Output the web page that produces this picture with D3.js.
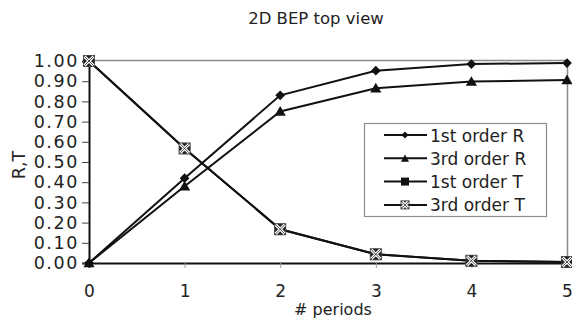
<!DOCTYPE html>
<html>
<head>
<meta charset="utf-8">
<script src="https://cdn.jsdelivr.net/npm/d3@7"></script>
<style>
  body { margin: 0; background: #fff; }
  text { font-family: "DejaVu Sans", Verdana, sans-serif; fill: #222; }
</style>
</head>
<body>
<svg id="chart" width="572" height="320"></svg>
<script>
// data
var periods = [0, 1, 2, 3, 4, 5];
var firstR = [0, 0.42, 0.83, 0.952, 0.985, 0.99];
var thirdR = [0, 0.38, 0.75, 0.865, 0.898, 0.906];
var firstT = [1.0, 0.567, 0.167, 0.043, 0.011, 0.005];
var thirdT = [1.0, 0.567, 0.167, 0.043, 0.011, 0.005];
var yTicks = [0, 0.1, 0.2, 0.3, 0.4, 0.5, 0.6, 0.7, 0.8, 0.9, 1.0];
var seriesNames = ["1st order R", "3rd order R", "1st order T", "3rd order T"];
var markerKinds = ["diamond", "triangle", "square", "boxx"];

var svg = d3.select("#chart");
var margin = { left: 89, right: 5, top: 61, bottom: 57 };
var width = 572, height = 320;

var x = d3.scaleLinear().domain([0, 5]).range([margin.left, width - margin.right]);
var y = d3.scaleLinear().domain([0, 1]).range([height - margin.bottom, margin.top]);

// title
svg.append("text").attr("x", 316).attr("y", 24).attr("text-anchor", "middle")
    .style("font-size", "16.5px").text("2D BEP top view");

// plot frame (top + right, grey)
svg.append("path")
    .attr("d", "M" + x(0) + "," + (y(1) - 0.5) + "H" + (x(5) + 0.5) + "V" + y(0))
    .attr("fill", "none").attr("stroke", "#8c8c8c").attr("stroke-width", 1.5);

// y axis
var yAxis = svg.append("g").attr("transform", "translate(" + x(0) + ",0)")
    .call(d3.axisLeft(y).tickValues(yTicks).tickFormat(d3.format(".2f")).tickSize(7).tickPadding(3));
yAxis.select(".domain").attr("stroke", "#111").attr("stroke-width", 2);
yAxis.selectAll(".tick line").attr("stroke", "#444");
yAxis.selectAll("text").style("font-size", "17.5px").style("letter-spacing", "1.6px").attr("fill", "#222");

// x axis
var xAxis = svg.append("g").attr("transform", "translate(0," + y(0) + ")")
    .call(d3.axisBottom(x).tickValues(periods).tickFormat(d3.format("d")).tickSize(5).tickPadding(17));
xAxis.select(".domain").attr("stroke", "#111").attr("stroke-width", 2);
xAxis.selectAll(".tick line").attr("stroke", "#999");
xAxis.selectAll("text").style("font-size", "17px").attr("fill", "#222");

// axis titles
svg.append("text").attr("x", 333).attr("y", 315).attr("text-anchor", "middle")
    .style("font-size", "16px").text("# periods");
svg.append("text").attr("transform", "translate(25,165) rotate(-90)").attr("text-anchor", "middle")
    .style("font-size", "17.5px").text("R,T");

// marker drawing
function drawMarker(g, kind, cx, cy, s) {
    if (kind === "diamond") {
        g.append("path").attr("transform", "translate(" + cx + "," + cy + ")")
            .attr("d", d3.symbol(d3.symbolDiamond2, s * s * 0.5)()).attr("fill", "#111");
    } else if (kind === "triangle") {
        g.append("path").attr("transform", "translate(" + cx + "," + (cy + 1) + ")")
            .attr("d", d3.symbol(d3.symbolTriangle, s * s * 0.45)()).attr("fill", "#111");
    } else if (kind === "square") {
        g.append("rect").attr("x", cx - s / 2).attr("y", cy - s / 2).attr("width", s).attr("height", s)
            .attr("fill", "#111");
    } else {
        var h = s / 2;
        g.append("rect").attr("x", cx - h).attr("y", cy - h).attr("width", s).attr("height", s)
            .attr("fill", "#222").attr("stroke", "#444").attr("stroke-width", 1);
        var xp = "M" + (cx - h + 1) + "," + (cy - h + 1) + "L" + (cx + h - 1) + "," + (cy + h - 1) +
                 "M" + (cx + h - 1) + "," + (cy - h + 1) + "L" + (cx - h + 1) + "," + (cy + h - 1);
        g.append("path").attr("d", xp).attr("stroke", "#fff").attr("stroke-width", 3);
        g.append("path").attr("d", xp).attr("stroke", "#222").attr("stroke-width", 0.8);
    }
}

var allSeries = [firstR, thirdR, firstT, thirdT];
var line = d3.line().x(function (d, i) { return x(periods[i]); }).y(function (d) { return y(d); });

var plot = svg.append("g");
allSeries.forEach(function (vals, k) {
    plot.append("path").datum(vals).attr("d", line)
        .attr("fill", "none").attr("stroke", "#111").attr("stroke-width", 2);
});
allSeries.forEach(function (vals, k) {
    var g = plot.append("g");
    vals.forEach(function (v, i) {
        drawMarker(g, markerKinds[k], x(periods[i]), y(v), k === 3 ? 11 : 11);
    });
});

// legend
var lg = svg.append("g");
lg.append("rect").attr("x", 364.5).attr("y", 123.5).attr("width", 182).attr("height", 93)
    .attr("fill", "#fff").attr("stroke", "#8c8c8c").attr("stroke-width", 1.2);
seriesNames.forEach(function (name, k) {
    var ly = 135 + k * 23.3;
    lg.append("line").attr("x1", 384).attr("x2", 427).attr("y1", ly).attr("y2", ly)
        .attr("stroke", "#111").attr("stroke-width", 2);
    drawMarker(lg, markerKinds[k], 405, ly, 8);
    lg.append("text").attr("x", 430).attr("y", ly + 6.5).style("font-size", "17px").text(name);
});
</script>
</body>
</html>
